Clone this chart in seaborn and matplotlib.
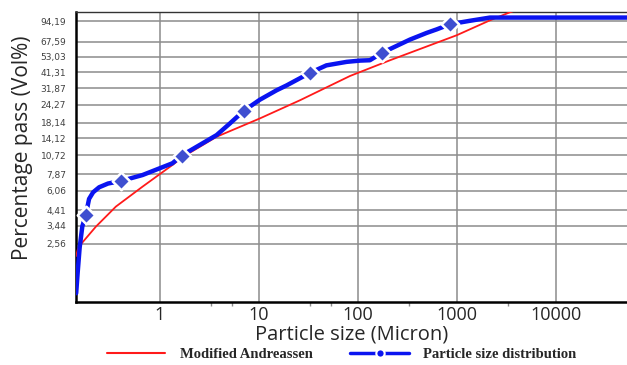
import matplotlib
matplotlib.use("Agg")
import matplotlib.pyplot as plt
from matplotlib.lines import Line2D
from matplotlib.ticker import FixedLocator, NullFormatter
import seaborn as sns

# particle size distribution (blue line)
PSD_SIZE = [0.143, 0.148, 0.155, 0.165, 0.179, 0.193, 0.212, 0.244, 0.30,
            0.404, 0.668, 1.34, 1.66, 3.74, 5.1, 7.05, 10.2, 15.1, 19, 32.7,
            48, 77, 105, 132, 176, 335, 494, 624, 850, 1350, 2150, 52000]
PSD_PASS = [1.15, 1.6, 2.4, 3.4, 4.09, 5.3, 5.9, 6.4, 6.8, 7.08, 7.8, 9.44,
            10.7, 14.9, 18.0, 22.1, 26.4, 30.8, 33.3, 40.8, 46.1, 48.8, 49.8,
            50.1, 56.6, 70, 78, 82.6, 89.8, 94.9, 100, 100]

# diamond markers on the distribution curve
MARKER_SIZE = [0.179, 0.404, 1.66, 7.05, 32.7, 176, 850]
MARKER_PASS = [4.09, 7.08, 10.7, 22.1, 40.8, 56.6, 89.8]

# modified Andreassen curve (red line)
AND_SIZE = [0.143, 0.148, 0.16, 0.226, 0.36, 0.668, 1.34, 1.72, 3.74, 10.2,
            26, 83, 211, 993, 2155, 3430, 4000]
AND_PASS = [2.1, 2.32, 2.55, 3.38, 4.68, 6.46, 9.18, 10.5, 14.5, 19.5, 26.2,
            38.8, 50.1, 75.1, 95.7, 109, 113]

Y_TICKS = [2.56, 3.44, 4.41, 6.06, 7.87, 10.72, 14.12, 18.14, 24.27, 31.87,
           41.31, 53.03, 67.59, 94.19]
Y_TICK_LABELS = ["2,56", "3,44", "4,41", "6,06", "7,87", "10,72", "14,12",
                 "18,14", "24,27", "31,87", "41,31", "53,03", "67,59", "94,19"]
X_TICKS = [1, 10, 100, 1000, 10000]
X_TICK_LABELS = ["1", "10", "100", "1000", "10000"]

sns.set_style("white")

fig, ax = plt.subplots(figsize=(6.27, 3.65), dpi=100)
fig.subplots_adjust(left=0.121, right=1.0, top=0.968, bottom=0.173)

ax.set_xscale("log")
ax.set_yscale("log")

sns.lineplot(x=AND_SIZE, y=AND_PASS, ax=ax, color="#ff1a1a", linewidth=1.3,
             zorder=3)
sns.lineplot(x=PSD_SIZE, y=PSD_PASS, ax=ax, color="#0a14f0", linewidth=3.2,
             zorder=4)
sns.scatterplot(x=MARKER_SIZE, y=MARKER_PASS, ax=ax, marker="D", s=80,
                color="#3f4fd0", edgecolor="white", linewidth=1.8, zorder=5)

ax.set_xlim(0.142, 52000)
ax.set_ylim(1, 110)

ax.yaxis.set_major_locator(FixedLocator(Y_TICKS))
ax.set_yticklabels(Y_TICK_LABELS)
ax.yaxis.set_minor_formatter(NullFormatter())
ax.yaxis.set_minor_locator(FixedLocator([]))
ax.xaxis.set_major_locator(FixedLocator(X_TICKS))
ax.set_xticklabels(X_TICK_LABELS)
ax.xaxis.set_minor_locator(FixedLocator([3.27, 5.4, 32.7, 54, 327, 3270]))
ax.xaxis.set_minor_formatter(NullFormatter())

ax.grid(True, which="major", color="#8c8c8c", linewidth=1.1)
ax.tick_params(axis="y", which="major", length=6, width=1, color="#8c8c8c",
               labelsize=6.5, labelcolor="#404040", pad=1)
ax.tick_params(axis="x", which="major", length=0, labelsize=13, pad=3)
ax.tick_params(axis="x", which="minor", bottom=True, length=3, width=1,
               color="#8c8c8c")
for lbl in ax.get_xticklabels():
    lbl.set_family("Open Sans")

for side in ["left", "bottom"]:
    ax.spines[side].set_color("black")
    ax.spines[side].set_linewidth(1.8)
ax.spines["top"].set_color("#333333")
ax.spines["top"].set_linewidth(1.0)
ax.spines["right"].set_visible(False)

ax.set_xlabel("Particle size (Micron)", fontsize=14.5, family="Open Sans",
              labelpad=0)
ax.set_ylabel("Percentage pass (Vol%)", fontsize=15, family="Open Sans")
ax.yaxis.set_label_coords(-0.078, 0.53)

handles = [
    Line2D([], [], color="#ff1a1a", linewidth=1.5),
    Line2D([], [], color="#0a14f0", linewidth=2.5, marker="o", markersize=6,
           markerfacecolor="#0a14f0", markeredgecolor="white",
           markeredgewidth=1.5),
]
fig.legend(handles, ["Modified Andreassen", "Particle size distribution"],
           loc="center", bbox_to_anchor=(0.545, 0.03), ncol=2, frameon=False,
           handlelength=4, handletextpad=1.0, columnspacing=2.6,
           prop={"family": "Liberation Serif", "weight": "bold",
                 "size": 10.5})

fig.savefig("out.png", dpi=100)
